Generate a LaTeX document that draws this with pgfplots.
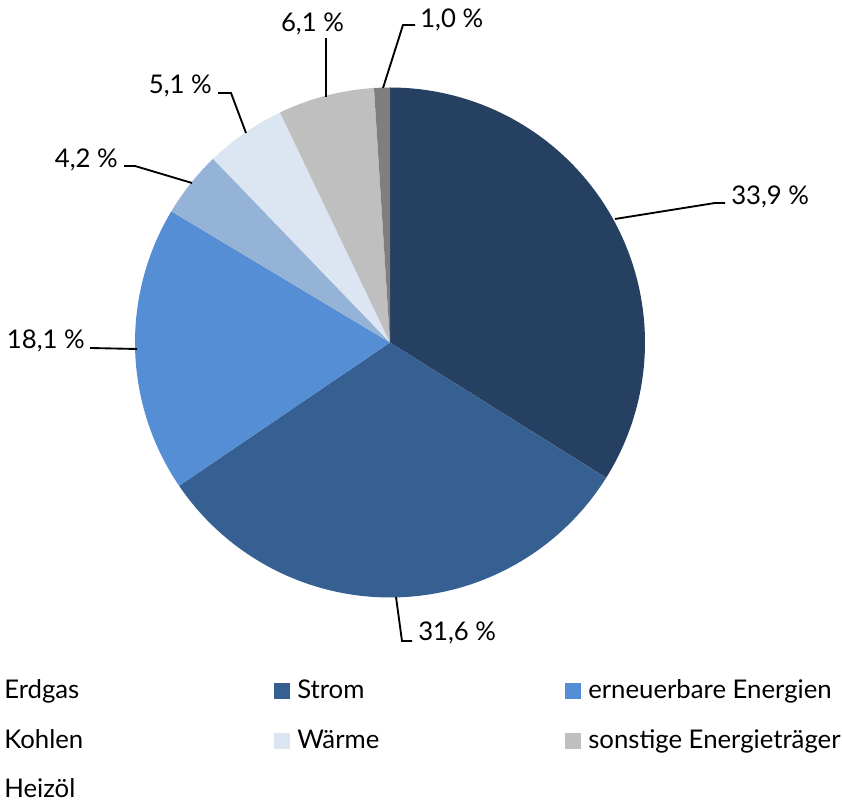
\documentclass[border=0pt]{standalone}
\usepackage{pgfplots}
\pgfplotsset{compat=1.18}
\usepackage{fontspec}
\setmainfont{Lato}
\definecolor{cErdgas}{HTML}{254061}
\definecolor{cStrom}{HTML}{376092}
\definecolor{cErn}{HTML}{558ED5}
\definecolor{cKohlen}{HTML}{95B3D7}
\definecolor{cWaerme}{HTML}{DCE6F2}
\definecolor{cSonst}{HTML}{BFBFBF}
\definecolor{cHeiz}{HTML}{7F7F7F}
\tikzset{lbl/.style={font=\fontsize{19.3}{22}\selectfont, inner sep=0pt}}
% shares in percent
\def\vErdgas{33.9}
\def\vStrom{31.6}
\def\vErn{18.1}
\def\vKohlen{4.2}
\def\vWaerme{5.1}
\def\vSonst{6.1}
\def\vHeiz{1.0}
\begin{document}%
\begin{tikzpicture}
\pgfmathsetmacro\aA{90}
\pgfmathsetmacro\aB{\aA-3.6*\vErdgas}
\pgfmathsetmacro\aC{\aB-3.6*\vStrom}
\pgfmathsetmacro\aD{\aC-3.6*\vErn}
\pgfmathsetmacro\aE{\aD-3.6*\vKohlen}
\pgfmathsetmacro\aF{\aE-3.6*\vWaerme}
\pgfmathsetmacro\aG{\aF-3.6*\vSonst}
\pgfmathsetmacro\aH{\aG-3.6*\vHeiz}
\begin{axis}[
  x=0.75pt, y=0.75pt,
  xmin=-390, xmax=452, ymin=-459.5, ymax=342.5,
  enlargelimits=false, hide axis, clip=false,
]
% slices
\addplot[fill=cErdgas, draw=none, domain=\aB:\aA, samples=90, variable=\t] ({255*cos(\t)},{255*sin(\t)}) -- (axis cs:0,0) -- cycle;
\addplot[fill=cStrom, draw=none, domain=\aC:\aB, samples=90, variable=\t] ({255*cos(\t)},{255*sin(\t)}) -- (axis cs:0,0) -- cycle;
\addplot[fill=cErn, draw=none, domain=\aD:\aC, samples=60, variable=\t] ({255*cos(\t)},{255*sin(\t)}) -- (axis cs:0,0) -- cycle;
\addplot[fill=cKohlen, draw=none, domain=\aE:\aD, samples=20, variable=\t] ({255*cos(\t)},{255*sin(\t)}) -- (axis cs:0,0) -- cycle;
\addplot[fill=cWaerme, draw=none, domain=\aF:\aE, samples=20, variable=\t] ({255*cos(\t)},{255*sin(\t)}) -- (axis cs:0,0) -- cycle;
\addplot[fill=cSonst, draw=none, domain=\aG:\aF, samples=20, variable=\t] ({255*cos(\t)},{255*sin(\t)}) -- (axis cs:0,0) -- cycle;
\addplot[fill=cHeiz, draw=none, domain=\aH:\aG, samples=8, variable=\t] ({255*cos(\t)},{255*sin(\t)}) -- (axis cs:0,0) -- cycle;
% leader lines
\addplot[black, line width=1.4pt] coordinates {(225,123.5) (325,139.5) (335,139.5)};
\addplot[black, line width=1.4pt] coordinates {(6,-254.5) (12,-298.5) (22,-298.5)};
\addplot[black, line width=1.4pt] coordinates {(-300,-5.5) (-253,-6.5)};
\addplot[black, line width=1.4pt] coordinates {(-266,176.5) (-255,176.5) (-198,159.5)};
\addplot[black, line width=1.4pt] coordinates {(-172,249.5) (-159,249.5) (-144,209.5)};
\addplot[black, line width=1.4pt] coordinates {(-64,304.5) (-64,245.5)};
\addplot[black, line width=1.4pt] coordinates {(25,317.5) (13,317.5) (-7,254.5)};
% labels
\node[lbl, anchor=base west] at (axis cs:341,137.5) {33,9 \%};
\node[lbl, anchor=base west] at (axis cs:28,-298.5) {31,6 \%};
\node[lbl, anchor=base east] at (axis cs:-305,-6.5) {18,1 \%};
\node[lbl, anchor=base east] at (axis cs:-272,174.5) {4,2 \%};
\node[lbl, anchor=base east] at (axis cs:-178,248.5) {5,1 \%};
\node[lbl, anchor=base] at (axis cs:-77.5,310.5) {6,1 \%};
\node[lbl, anchor=base west] at (axis cs:30,314.5) {1,0 \%};
% legend
\node[lbl, anchor=base west] at (axis cs:-386,-356.5) {Erdgas};
\node[lbl, anchor=base west] at (axis cs:-386,-406.5) {Kohlen};
\node[lbl, anchor=base west] at (axis cs:-386,-455.5) {Heizöl};
\fill[cStrom] (axis cs:-116,-356.5) rectangle (axis cs:-100,-340.5);
\node[lbl, anchor=base west] at (axis cs:-93,-356.5) {Strom};
\fill[cWaerme] (axis cs:-116,-406.5) rectangle (axis cs:-100,-390.5);
\node[lbl, anchor=base west] at (axis cs:-93,-406.5) {Wärme};
\fill[cErn] (axis cs:175,-356.5) rectangle (axis cs:191,-340.5);
\node[lbl, anchor=base west] at (axis cs:198,-356.5) {erneuerbare Energien};
\fill[cSonst] (axis cs:175,-406.5) rectangle (axis cs:191,-390.5);
\node[lbl, anchor=base west] at (axis cs:198,-406.5) {sonstige Energieträger};
\end{axis}
\pgfresetboundingbox
\path (current axis.south west) rectangle (current axis.north east);
\end{tikzpicture}%
\end{document}
